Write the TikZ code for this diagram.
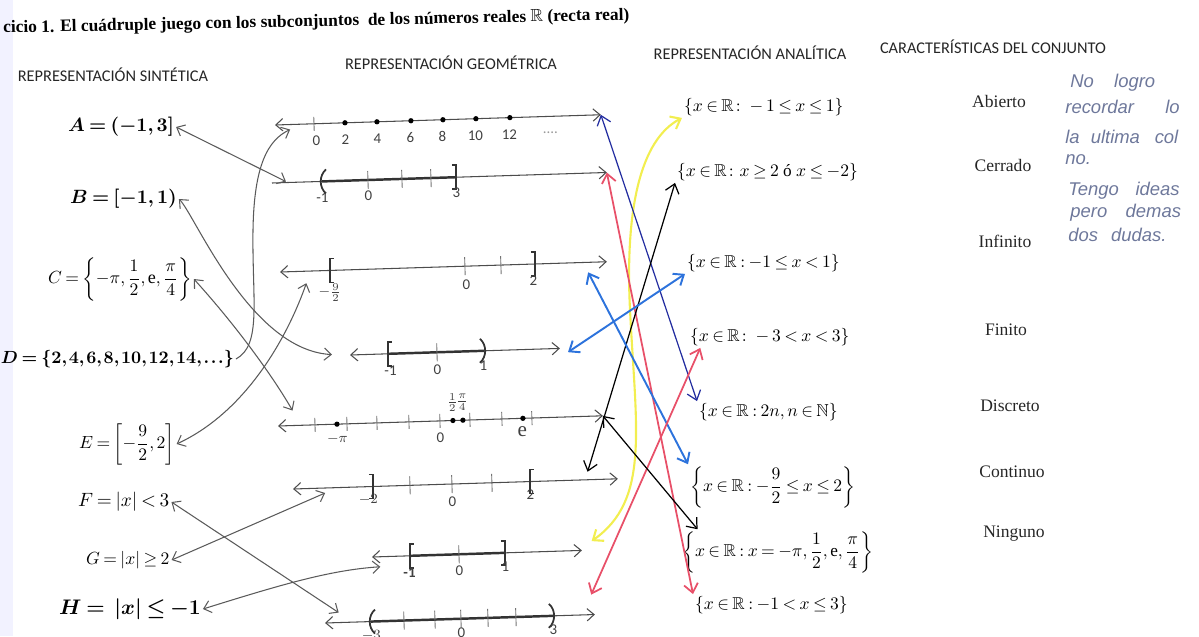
\documentclass[tikz,border=0pt]{standalone}
\usepackage{amsmath}
\usepackage{amssymb}
\usepackage{fontspec}
\setmainfont{Liberation Serif}
\newfontfamily\cabfont{Carlito}
\newfontfamily\manofont{Liberation Sans}
\usetikzlibrary{arrows.meta}

\thickmuskip=3.5mu plus 1mu
\medmuskip=3mu plus 1mu
\thinmuskip=2.5mu

\definecolor{lapiz}{RGB}{90,90,90}
\definecolor{azulosc}{RGB}{35,45,160}
\definecolor{azulcl}{RGB}{45,115,220}
\definecolor{rojo}{RGB}{232,80,105}
\definecolor{amarillo}{RGB}{242,238,80}
\definecolor{tinta}{RGB}{110,120,155}

\tikzset{
  recta/.style={<->, black!70, line width=0.6pt},
  tramo/.style={black!80, line width=1.4pt},
  marca/.style={black!55, line width=0.5pt},
  etiq/.style={font=\cabfont\fontsize{8.5}{9}\selectfont, text=black!75, inner sep=0pt},
  flecha/.style={<->, lapiz, line width=0.6pt},
  flechacol/.style={<->, line width=#1, >={Straight Barb[length=5pt,width=8pt]}},
  conj/.style={anchor=west, inner sep=1pt},
  analit/.style={anchor=west, inner sep=1pt, font=\fontsize{9.8}{11}\selectfont},
  carac/.style={font=\fontsize{10}{12}\selectfont, text=black!85},
  cabecera/.style={font=\cabfont\fontsize{9.3}{11}\selectfont, text=black!85},
  mano/.style={anchor=west, inner sep=0pt, font=\manofont\itshape\fontsize{10.5}{12}\selectfont, text=tinta},
  pics/abreC/.style={code={\draw[line width=1pt, black!80] (4,-12) -- (0,-12) -- (0,12) -- (4,12);}},
  pics/cierraC/.style={code={\draw[line width=1pt, black!80] (-4,-12) -- (0,-12) -- (0,12) -- (-4,12);}},
  pics/abreP/.style={code={\draw[line width=1pt, black!80] (4,-12) .. controls (-3,-6) and (-3,6) .. (4,12);}},
  pics/cierraP/.style={code={\draw[line width=1pt, black!80] (-4,-12) .. controls (3,-6) and (3,6) .. (-4,12);}}
}

\begin{document}
\begin{tikzpicture}[x=0.02cm, y=-0.02cm, >={Straight Barb[length=4pt,width=7pt]}]
  \useasboundingbox (0,0) rectangle (1199,636);
  \clip (0,0) rectangle (1199,636);
  \fill[blue!5] (0,0) rectangle (13,636);

  % Titulo y encabezados
  \node[anchor=west, rotate=1.2, font=\bfseries\fontsize{9.9}{11}\selectfont] (titulo) at (-3,29)
    {cicio 1. El cuádruple juego con los subconjuntos \ de los números reales $\mathbb{R}$ (recta real)};
  \node[cabecera] (hsint) at (113,75) {REPRESENTACIÓN SINTÉTICA};
  \node[cabecera] (hgeom) at (451,63) {REPRESENTACIÓN GEOMÉTRICA};
  \node[cabecera] (hanal) at (750,53) {REPRESENTACIÓN ANALÍTICA};
  \node[cabecera] (hcar) at (993,47) {CARACTERÍSTICAS DEL CONJUNTO};

  % Representacion sintetica
  \node[conj, font=\fontsize{10.5}{12}\selectfont] (A) at (66,127) {{\boldmath$A=(-1,3]$}};
  \node[conj, font=\fontsize{10.5}{12}\selectfont] (B) at (68,199) {{\boldmath$B=[-1,1)$}};
  \node[conj, font=\fontsize{10.3}{12}\selectfont] (C) at (46,279) {$C=\left\{-\pi,\dfrac{1}{2},\mathrm{e},\dfrac{\pi}{4}\right\}$};
  \node[anchor=east, inner sep=1pt, font=\fontsize{10}{12}\selectfont] (D) at (236,359)
    {{\thinmuskip=1.5mu\boldmath$D=\{2,4,6,8,10,12,14,\ldots\}$}};
  \node[conj, font=\fontsize{9.8}{11}\selectfont] (E) at (77,444) {$E=\left[-\dfrac{9}{2},2\right]$};
  \node[conj, font=\fontsize{11}{13}\selectfont] (F) at (76,502) {$F=|x|<3$};
  \node[conj, font=\fontsize{9.8}{11}\selectfont] (G) at (84,560) {$G=|x|\geq 2$};
  \node[conj, font=\fontsize{11.5}{13}\selectfont] (H) at (57,609) {{\boldmath$H=\ |x|\leq -1$}};

  % Recta de D
  \begin{scope}[shift={(275,125)}, rotate=1.8]
    \draw[recta] (0,0) -- (326,0) coordinate (r1e);
    \coordinate (r1a) at (15,5);
    \draw[marca] (39,-7) -- (39,7);
    \foreach \p in {70,102,136,168,201,235} \fill (\p,0) circle (1.5pt);
    \foreach \p/\t in {41/0,70/2,102/4,135/6,167/8,200/10,234/12}
      \node[etiq] at (\p,17) {\t};
    \node[etiq, text=black!40] at (275,16) {....};
  \end{scope}

  % Recta de A
  \begin{scope}[shift={(272,183)}, rotate=1.8]
    \draw[->, black!70, line width=0.6pt] (0,0) -- (335,0) coordinate (r2e);
    \coordinate (r2a) at (14,-1);
    \draw[tramo] (50,0) -- (184,0);
    \pic at (50,0) {abreP};
    \pic at (184,0) {cierraC};
    \foreach \p in {96,130,159} \draw[marca] (\p,-9) -- (\p,9);
    \foreach \p/\t in {50/-1,96/0} \node[etiq] at (\p,16) {\t};
    \node[etiq] at (184,15) {3};
  \end{scope}

  % Recta de E
  \begin{scope}[shift={(280,272)}, rotate=1.8]
    \draw[recta] (0,0) -- (327,0) coordinate (r3e);
    \coordinate (r3a) at (26,12);
    \coordinate (r3b) at (308,10);
    \pic at (50,0) {abreC};
    \pic at (255,0) {cierraC};
    \foreach \p in {185,221} \draw[marca] (\p,-9) -- (\p,9);
    \node[etiq] at (49,22) {$-\frac{9}{2}$};
    \node[etiq] at (186,19) {0};
    \node[etiq] at (253,17) {2};
  \end{scope}

  % Recta de B
  \begin{scope}[shift={(350,355)}, rotate=1.8]
    \draw[recta] (0,0) -- (210,0) coordinate (r4e);
    \coordinate (r4a) at (-18,-1);
    \coordinate (r4b) at (218,4);
    \draw[tramo] (38,0) -- (134,0);
    \pic at (38,0) {abreC};
    \pic at (134,0) {cierraP};
    \draw[marca] (87,-9) -- (87,9);
    \foreach \p/\t in {40/-1,87/0} \node[etiq] at (\p,17) {\t};
    \node[etiq] at (133,15) {1};
  \end{scope}

  % Recta de C
  \begin{scope}[shift={(278,426)}, rotate=1.8]
    \draw[recta] (0,0) -- (325,0) coordinate (r5e);
    \coordinate (r5a) at (15,-15);
    \foreach \p in {37,69,99,131,162,192,224,254} \draw[marca] (\p,-7) -- (\p,7);
    \foreach \p in {59,175,185,245} \fill (\p,0) circle (1.5pt);
    \node[etiq] at (59,15) {$-\pi$};
    \node[etiq] at (162,17) {0};
    \node[etiq, font=\fontsize{12}{12}\selectfont] at (244,13) {e};
    \node[etiq] at (175,-18) {$\frac{1}{2}$};
    \node[etiq] at (185,-18) {$\frac{\pi}{4}$};
  \end{scope}

  % Recta de G
  \begin{scope}[shift={(293,489)}, rotate=1.8]
    \draw[recta] (0,0) -- (325,0) coordinate (r6e);
    \coordinate (r6a) at (32,5);
    \coordinate (r6n) at (295,-8);
    \pic at (80,0) {cierraC};
    \pic at (237,0) {abreC};
    \foreach \p in {117,159,199} \draw[marca] (\p,-9) -- (\p,9);
    \node[etiq] at (75,13) {$-2$};
    \node[etiq] at (159,18) {0};
    \node[etiq] at (237,13) {2};
  \end{scope}

  % Recta de H
  \begin{scope}[shift={(372,557)}, rotate=1.8]
    \draw[recta] (0,0) -- (210,0) coordinate (r7e);
    \coordinate (r7a) at (8,10);
    \coordinate (r7y) at (220,-9);
    \draw[tramo] (38,0) -- (133,0);
    \pic at (38,0) {abreC};
    \pic at (133,0) {cierraC};
    \draw[marca] (87,-9) -- (87,9);
    \node[etiq, font=\cabfont\bfseries\fontsize{8.5}{9}\selectfont] at (37,17) {-1};
    \node[etiq] at (87,16) {0};
    \node[etiq] at (133,14) {1};
  \end{scope}

  % Recta de F
  \begin{scope}[shift={(325,623)}, rotate=1.8]
    \draw[recta] (0,0) -- (270,0) coordinate (r8e);
    \coordinate (r8a) at (14,-10);
    \coordinate (r8r) at (267,-20);
    \draw[tramo] (46,0) -- (228,0);
    \pic at (46,0) {abreP};
    \pic at (228,0) {cierraP};
    \foreach \p in {79,110,136,163,191} \draw[marca] (\p,-9) -- (\p,9);
    \foreach \p/\t in {46/$-3$,136/0,228/3} \node[etiq] at (\p,14) {\t};
  \end{scope}

  % Representacion analitica
  \node[analit] (an1) at (682,107) {$\{x\in\mathbb{R}\colon -1\leq x\leq 1\}$};
  \node[analit] (an2) at (675,172) {$\{x\in\mathbb{R}\colon x\geq 2 \text{ ó } x\leq -2\}$};
  \node[analit] (an3) at (685,263) {$\{x\in\mathbb{R} : -1\leq x<1\}$};
  \node[analit] (an4) at (688,337) {$\{x\in\mathbb{R}\colon -3<x<3\}$};
  \node[analit] (an5) at (697,412) {$\{x\in\mathbb{R} : 2n, n\in\mathbb{N}\}$};
  \node[analit] (an6) at (688,487) {$\left\{x\in\mathbb{R} : -\dfrac{9}{2}\leq x\leq 2\right\}$};
  \node[analit] (an7) at (680,552) {$\left\{x\in\mathbb{R} : x=-\pi,\dfrac{1}{2},\mathrm{e},\dfrac{\pi}{4}\right\}$};
  \node[analit] (an8) at (693,605) {$\{x\in\mathbb{R} : -1<x\leq 3\}$};

  % Caracteristicas
  \node[carac] (abierto) at (999,101) {Abierto};
  \node[carac] (cerrado) at (1003,165) {Cerrado};
  \node[carac] (infinito) at (1005,241) {Infinito};
  \node[carac] (finito) at (1006,330) {Finito};
  \node[carac] (discreto) at (1010,406) {Discreto};
  \node[carac] (continuo) at (1012,472) {Continuo};
  \node[carac] (ninguno) at (1014,534) {Ninguno};

  % Nota a mano
  \node[mano] (n1) at (1070,83) {No\hspace{1.1em}logro};
  \node[mano] (n2) at (1065,107) {recordar\hspace{1.7em}lo};
  \node[mano] (n3) at (1065,137) {la\hspace{0.6em}ultima\hspace{0.8em}col};
  \node[mano] (n4) at (1065,160) {no.};
  \node[mano] (n5) at (1068,191) {Tengo\hspace{0.9em}ideas};
  \node[mano] (n6) at (1070,213) {pero\hspace{1em}demas};
  \node[mano] (n7) at (1068,235) {dos\hspace{0.7em}dudas.};

  % Flechas a lapiz
  \draw[flecha] (A.east) -- (r2a);
  \draw[flecha, <-] (r1a) .. controls (268,140) and (254,165) .. (253,230)
    .. controls (252,300) and (262,345) .. (D.east);
  \draw[flecha] (B.east) .. controls (195,215) and (250,350) .. (r4a);
  \draw[flecha] (C.east) .. controls (240,330) and (275,380) .. (r5a);
  \draw[flecha] (E.east) .. controls (250,410) and (290,330) .. (r3a);
  \draw[flecha] (F.east) -- (r8a);
  \draw[flecha] (G.east) -- (r6a);
  \draw[flecha] (H.east) .. controls (280,585) and (330,570) .. (r7a);

  % Flechas de colores
  \draw[flechacol=1.2pt, amarillo] (an1.south west) .. controls (640,140) and (625,210) .. (630,310)
    .. controls (636,430) and (650,500) .. (r7y);
  \draw[flechacol=0.7pt, azulosc] (r1e) -- (an5.north west);
  \draw[flechacol=1pt, rojo] (r2e) -- (an8.north west);
  \draw[flechacol=0.7pt, black] (an2.south west) -- (r6n);
  \draw[flechacol=1.1pt, azulcl] (an3.south west) -- (r4b);
  \draw[flechacol=1.1pt, azulcl] (r3b) -- (an6.north west);
  \draw[flechacol=1pt, rojo] ([xshift=7pt]an4.south west) -- (r8r);
  \draw[flechacol=0.7pt, black] (r5e) -- ([xshift=10pt]an7.north west);
\end{tikzpicture}
\end{document}
